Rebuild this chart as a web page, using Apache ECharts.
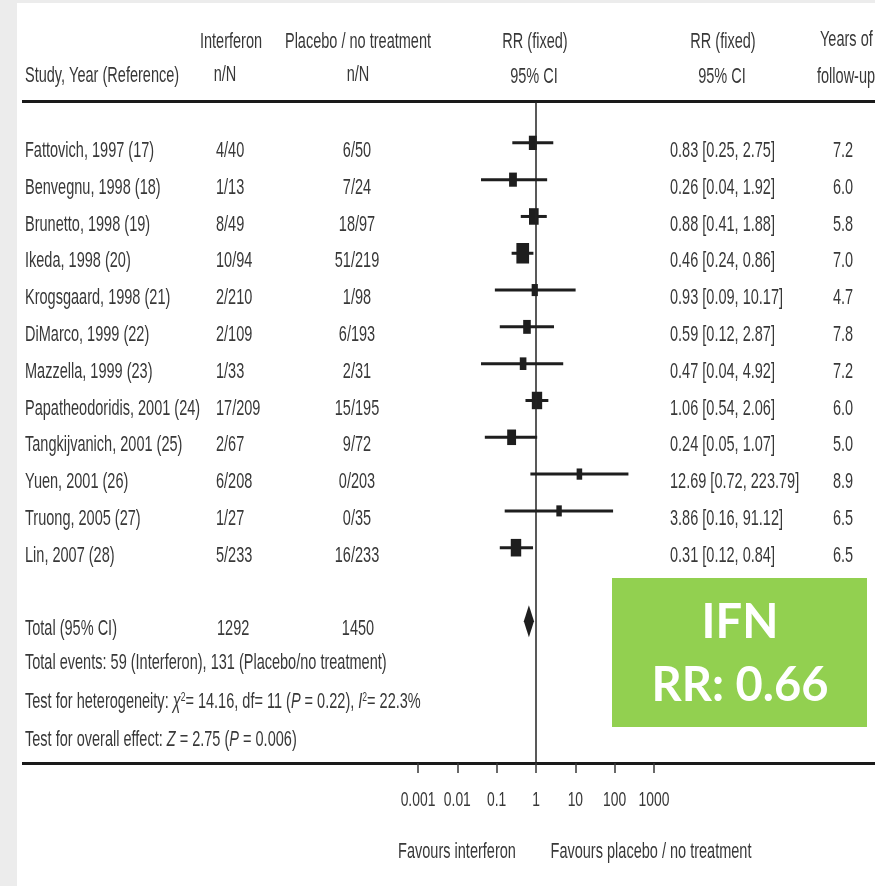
<!DOCTYPE html>
<html>
<head>
<meta charset="utf-8">
<title>Interferon vs placebo / no treatment – forest plot</title>
<script src="https://cdn.jsdelivr.net/npm/echarts@6/dist/echarts.min.js"></script>
<style>
  html, body { margin: 0; padding: 0; background: #ececec; }
  #panel { position: absolute; left: 17px; top: 3px; width: 858px; height: 883px; background: #ffffff; }
  #chart { position: absolute; left: 0; top: 0; width: 875px; height: 886px; }
</style>
</head>
<body>
<div id="panel"></div>
<div id="chart"></div>
<script>
// ---- Study data ----
const studies = [
  'Fattovich, 1997 (17)', 'Benvegnu, 1998 (18)', 'Brunetto, 1998 (19)', 'Ikeda, 1998 (20)',
  'Krogsgaard, 1998 (21)', 'DiMarco, 1999 (22)', 'Mazzella, 1999 (23)', 'Papatheodoridis, 2001 (24)',
  'Tangkijvanich, 2001 (25)', 'Yuen, 2001 (26)', 'Truong, 2005 (27)', 'Lin, 2007 (28)'
];
const ifnEvents = ['4/40', '1/13', '8/49', '10/94', '2/210', '2/109', '1/33', '17/209', '2/67', '6/208', '1/27', '5/233'];
const ctlEvents = ['6/50', '7/24', '18/97', '51/219', '1/98', '6/193', '2/31', '15/195', '9/72', '0/203', '0/35', '16/233'];
const rr      = [0.83, 0.26, 0.88, 0.46, 0.93, 0.59, 0.47, 1.06, 0.24, 12.69, 3.86, 0.31];
const ciLow   = [0.25, 0.04, 0.41, 0.24, 0.09, 0.12, 0.04, 0.54, 0.05, 0.72, 0.16, 0.12];
const ciHigh  = [2.75, 1.92, 1.88, 0.86, 10.17, 2.87, 4.92, 2.06, 1.07, 223.79, 91.12, 0.84];
const followUp = ['7.2', '6.0', '5.8', '7.0', '4.7', '7.8', '7.2', '6.0', '5.0', '8.9', '6.5', '6.5'];
// approximate study weights (%), used for the size of each box
const weightPct = [5.2, 4.8, 11.8, 29.9, 1.3, 4.3, 2.0, 15.2, 8.5, 0.5, 0.4, 15.7];

// ---- Pooled estimate ----
const totalRR = 0.66, totalLow = 0.49, totalHigh = 0.89;
const totalIfn = '1292', totalCtl = '1450';

// ---- Axis ----
const axisTickValues = [0.001, 0.01, 0.1, 1, 10, 100, 1000];
const axisTickLabels = ['0.001', '0.01', '0.1', '1', '10', '100', '1000'];

// ---- Layout ----
const FONT = "'Liberation Sans', Arial, sans-serif";
const FSIZE = 22;
const SQUEEZE = 0.66;       // condensed type
const INK = '#383838';
const TEXT_DY = 8;          // table text sits slightly below the plotted row
const COL = { study: 25, ifn: 216, ctl: 357, rrText: 670, years: 843 };

const chart = echarts.init(document.getElementById('chart'), null, { renderer: 'canvas' });

const rowData = rr.map((v, i) => [v, i + 1, ciLow[i], ciHigh[i], weightPct[i]]);
const TOTAL_ROW = 14;

const option = {
  animation: false,
  backgroundColor: 'transparent',
  grid: { left: 418, width: 236, top: 102, height: 661 },
  xAxis: {
    type: 'log',
    logBase: 10,
    min: axisTickValues[0],
    max: axisTickValues[axisTickValues.length - 1],
    splitNumber: 6,
    axisLine: { show: false, onZero: false },
    axisTick: { show: true, length: 10, lineStyle: { color: INK, width: 1.5 } },
    splitLine: { show: false },
    axisLabel: { show: false }
  },
  yAxis: { type: 'value', min: -0.11, max: 17.85, inverse: true, show: false },
  series: [
    {
      type: 'custom',
      name: 'studies',
      encode: { x: [0, 2, 3], y: 1 },
      data: rowData,
      renderItem: (params, api) => {
        const y = api.value(1);
        const pLo = api.coord([api.value(2), y]);
        const pHi = api.coord([api.value(3), y]);
        const pM = api.coord([api.value(0), y]);
        const w = 4.5 + Math.sqrt(api.value(4)) * 1.5;
        const h = w * 1.3 + 4;
        return {
          type: 'group',
          children: [
            { type: 'line', shape: { x1: pLo[0], y1: pLo[1], x2: pHi[0], y2: pHi[1] },
              style: { stroke: '#1e1e1e', lineWidth: 3 } },
            { type: 'rect', shape: { x: pM[0] - w / 2, y: pM[1] - h / 2, width: w, height: h },
              style: { fill: '#1e1e1e' } }
          ]
        };
      },
      markLine: {
        silent: true,
        symbol: 'none',
        label: { show: false },
        lineStyle: { color: '#222', width: 1.5, type: 'solid' },
        data: [{ xAxis: 1 }]
      }
    },
    {
      type: 'custom',
      name: 'total',
      encode: { x: [0, 2, 3], y: 1 },
      data: [[totalRR, TOTAL_ROW, totalLow, totalHigh]],
      renderItem: (params, api) => {
        const y = api.value(1);
        const c = api.coord([api.value(0), y]);
        const l = api.coord([api.value(2), y]);
        const r = api.coord([api.value(3), y]);
        const half = 16;
        return {
          type: 'polygon',
          shape: { points: [[l[0], c[1]], [c[0], c[1] - half], [r[0], c[1]], [c[0], c[1] + half]] },
          style: { fill: '#1e1e1e' }
        };
      }
    }
  ]
};
chart.setOption(option);

// ---- Table text and rules ----
const rowY = v => chart.convertToPixel({ yAxisIndex: 0 }, v) + TEXT_DY;
const txt = (s, x, y, align, extra) => ({
  type: 'text', x, y, scaleX: SQUEEZE, silent: true,
  style: Object.assign({ text: s, font: `${FSIZE}px ${FONT}`, fill: INK, align: align || 'left', verticalAlign: 'middle' }, extra || {})
});

const graphics = [];
// rules
graphics.push({ type: 'line', shape: { x1: 22, y1: 101.5, x2: 875, y2: 101.5 }, style: { stroke: '#1a1a1a', lineWidth: 3 } });
graphics.push({ type: 'line', shape: { x1: 22, y1: 763.5, x2: 875, y2: 763.5 }, style: { stroke: '#1a1a1a', lineWidth: 3 } });

// headers
graphics.push(txt('Study, Year (Reference)', 25, 76));
graphics.push(txt('Interferon', 231, 42, 'center'));
graphics.push(txt('n/N', 225, 75, 'center'));
graphics.push(txt('Placebo / no treatment', 358, 42, 'center'));
graphics.push(txt('n/N', 358, 75, 'center'));
graphics.push(txt('RR (fixed)', 535, 42, 'center'));
graphics.push(txt('95% CI', 534, 77, 'center'));
graphics.push(txt('RR (fixed)', 723, 42, 'center'));
graphics.push(txt('95% CI', 722, 77, 'center'));
graphics.push(txt('Years of', 820, 40));
graphics.push(txt('follow-up', 817, 77));

// study rows
studies.forEach((s, i) => {
  const y = rowY(i + 1);
  graphics.push(txt(s, COL.study, y));
  graphics.push(txt(ifnEvents[i], COL.ifn, y));
  graphics.push(txt(ctlEvents[i], COL.ctl, y, 'center'));
  graphics.push(txt(`${rr[i].toFixed(2)} [${ciLow[i].toFixed(2)}, ${ciHigh[i].toFixed(2)}]`, COL.rrText, y));
  graphics.push(txt(followUp[i], COL.years, y, 'center'));
});

// totals and summary statistics
const yTot = rowY(TOTAL_ROW);
graphics.push(txt('Total (95% CI)', COL.study, yTot));
graphics.push(txt(totalIfn, COL.ifn + 1, yTot));
graphics.push(txt(totalCtl, COL.ctl + 1, yTot, 'center'));
graphics.push(txt('Total events: 59 (Interferon), 131 (Placebo/no treatment)', COL.study, 663));
const richIt = { font: `italic ${FSIZE}px ${FONT}`, fill: INK };
const richSup = { font: `13px ${FONT}`, fill: INK, verticalAlign: 'top', padding: [0, 0, 8, 0] };
graphics.push(txt('Test for heterogeneity: {it|χ}{sup|2}= 14.16, df= 11 ({it|P} = 0.22), {it|I}{sup|2}= 22.3%', COL.study, 702, 'left',
  { rich: { it: richIt, sup: richSup } }));
graphics.push(txt('Test for overall effect: {it|Z} = 2.75 ({it|P} = 0.006)', COL.study, 740, 'left',
  { rich: { it: richIt } }));

// tick labels, placed through the x axis scale
axisTickValues.forEach((v, i) => {
  const x = chart.convertToPixel({ xAxisIndex: 0 }, v);
  graphics.push(txt(axisTickLabels[i], x, 800, 'center', { font: `21px ${FONT}` }));
});

// direction labels under the axis
graphics.push(txt('Favours interferon', 457, 852, 'center'));
graphics.push(txt('Favours placebo / no treatment', 651, 852, 'center'));

// pooled result call-out
graphics.push({ type: 'rect', shape: { x: 612, y: 578, width: 255, height: 149 }, style: { fill: '#92d050' }, z: 10 });
graphics.push({ type: 'text', x: 740, y: 623, z: 11,
  style: { text: 'IFN', font: "bold 47px 'Lato', 'Open Sans', sans-serif", fill: '#ffffff', align: 'center', verticalAlign: 'middle' } });
graphics.push({ type: 'text', x: 740, y: 686, z: 11,
  style: { text: `RR: ${totalRR.toFixed(2)}`, font: "bold 47px 'Lato', 'Open Sans', sans-serif", fill: '#ffffff', align: 'center', verticalAlign: 'middle' } });

chart.setOption({ graphic: { elements: graphics } });
</script>
</body>
</html>
